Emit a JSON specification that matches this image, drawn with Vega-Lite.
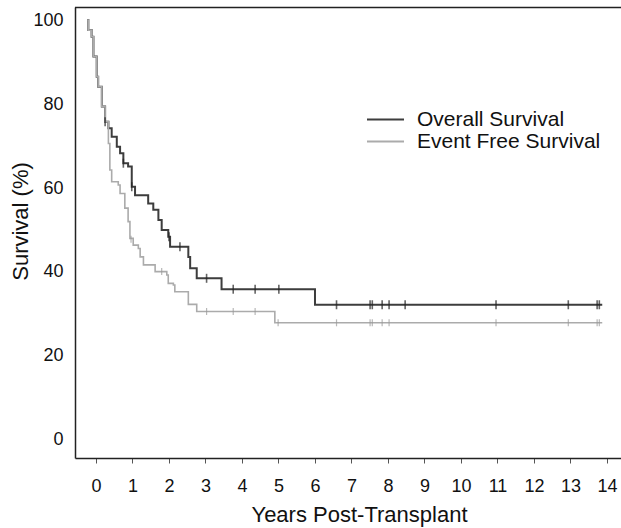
{
  "$schema": "https://vega.github.io/schema/vega-lite/v6.json",
  "autosize": {"type": "none"},
  "width": 546,
  "height": 451,
  "padding": {"left": 75, "top": 7, "right": 0, "bottom": 70},
  "background": "white",
  "config": {
    "view": {"stroke": null},
    "font": "Liberation Sans",
    "axis": {"labelFont": "Liberation Sans", "titleFont": "Liberation Sans", "labelColor": "#111", "titleColor": "#111", "domainColor": "#222", "domainWidth": 1.5, "grid": false, "titleFontWeight": "normal"},
    "legend": {"title": null, "orient": "none", "padding": 0, "symbolType": "stroke", "symbolSize": 1369, "symbolStrokeWidth": 2, "labelFontSize": 21, "labelFont": "Liberation Sans", "labelColor": "#111", "labelOffset": 12, "labelLimit": 400}
  },
  "datasets": {
    "os": [
      {"s": "Overall Survival", "t": -0.24, "v": 100},
      {"s": "Overall Survival", "t": -0.21, "v": 97.6},
      {"s": "Overall Survival", "t": -0.12, "v": 96.0},
      {"s": "Overall Survival", "t": -0.07, "v": 91.3},
      {"s": "Overall Survival", "t": 0.02, "v": 86.5},
      {"s": "Overall Survival", "t": 0.06, "v": 84.1},
      {"s": "Overall Survival", "t": 0.16, "v": 79.4},
      {"s": "Overall Survival", "t": 0.25, "v": 75.8},
      {"s": "Overall Survival", "t": 0.34, "v": 74.2},
      {"s": "Overall Survival", "t": 0.43, "v": 72.2},
      {"s": "Overall Survival", "t": 0.57, "v": 69.8},
      {"s": "Overall Survival", "t": 0.66, "v": 68.3},
      {"s": "Overall Survival", "t": 0.75, "v": 65.9},
      {"s": "Overall Survival", "t": 0.88, "v": 65.1},
      {"s": "Overall Survival", "t": 0.98, "v": 60.3},
      {"s": "Overall Survival", "t": 1.07, "v": 58.3},
      {"s": "Overall Survival", "t": 1.43, "v": 56.3},
      {"s": "Overall Survival", "t": 1.57, "v": 54.8},
      {"s": "Overall Survival", "t": 1.71, "v": 52.4},
      {"s": "Overall Survival", "t": 1.80, "v": 50.0},
      {"s": "Overall Survival", "t": 1.98, "v": 48.4},
      {"s": "Overall Survival", "t": 2.03, "v": 46.0},
      {"s": "Overall Survival", "t": 2.53, "v": 43.6},
      {"s": "Overall Survival", "t": 2.58, "v": 40.9},
      {"s": "Overall Survival", "t": 2.76, "v": 38.5},
      {"s": "Overall Survival", "t": 3.44, "v": 35.9},
      {"s": "Overall Survival", "t": 6.0, "v": 32.2},
      {"s": "Overall Survival", "t": 13.87, "v": 32.2}
    ],
    "efs": [
      {"s": "Event Free Survival", "t": -0.24, "v": 100},
      {"s": "Event Free Survival", "t": -0.21, "v": 97.6},
      {"s": "Event Free Survival", "t": -0.12, "v": 96.0},
      {"s": "Event Free Survival", "t": -0.07, "v": 91.3},
      {"s": "Event Free Survival", "t": 0.02, "v": 86.5},
      {"s": "Event Free Survival", "t": 0.06, "v": 84.1},
      {"s": "Event Free Survival", "t": 0.16, "v": 79.4},
      {"s": "Event Free Survival", "t": 0.25, "v": 75.8},
      {"s": "Event Free Survival", "t": 0.34, "v": 70.6},
      {"s": "Event Free Survival", "t": 0.38, "v": 64.3},
      {"s": "Event Free Survival", "t": 0.43, "v": 61.5},
      {"s": "Event Free Survival", "t": 0.61, "v": 60.7},
      {"s": "Event Free Survival", "t": 0.66, "v": 58.7},
      {"s": "Event Free Survival", "t": 0.79, "v": 55.2},
      {"s": "Event Free Survival", "t": 0.88, "v": 52.0},
      {"s": "Event Free Survival", "t": 0.93, "v": 48.0},
      {"s": "Event Free Survival", "t": 1.02, "v": 46.4},
      {"s": "Event Free Survival", "t": 1.16, "v": 45.6},
      {"s": "Event Free Survival", "t": 1.21, "v": 43.6},
      {"s": "Event Free Survival", "t": 1.30, "v": 41.7},
      {"s": "Event Free Survival", "t": 1.62, "v": 40.1},
      {"s": "Event Free Survival", "t": 1.94, "v": 39.3},
      {"s": "Event Free Survival", "t": 1.98, "v": 37.3},
      {"s": "Event Free Survival", "t": 2.12, "v": 36.9},
      {"s": "Event Free Survival", "t": 2.16, "v": 35.3},
      {"s": "Event Free Survival", "t": 2.53, "v": 32.3},
      {"s": "Event Free Survival", "t": 2.76, "v": 30.6},
      {"s": "Event Free Survival", "t": 4.90, "v": 27.9},
      {"s": "Event Free Survival", "t": 13.87, "v": 27.9}
    ],
    "osCensor": [
      {"t": 0.25, "v": 75.8},
      {"t": 0.75, "v": 65.9},
      {"t": 0.98, "v": 60.3},
      {"t": 2.0, "v": 48.4},
      {"t": 2.30, "v": 46.0},
      {"t": 3.03, "v": 38.5},
      {"t": 3.76, "v": 35.9},
      {"t": 4.36, "v": 35.9},
      {"t": 5.01, "v": 35.9},
      {"t": 6.59, "v": 32.2},
      {"t": 7.51, "v": 32.2},
      {"t": 7.57, "v": 32.2},
      {"t": 7.84, "v": 32.2},
      {"t": 8.03, "v": 32.2},
      {"t": 8.47, "v": 32.2},
      {"t": 10.96, "v": 32.2},
      {"t": 12.94, "v": 32.2},
      {"t": 13.73, "v": 32.2},
      {"t": 13.79, "v": 32.2}
    ],
    "efsCensor": [
      {"t": 0.96, "v": 47.8},
      {"t": 1.80, "v": 40.1},
      {"t": 3.03, "v": 30.6},
      {"t": 3.76, "v": 30.6},
      {"t": 4.36, "v": 30.6},
      {"t": 4.99, "v": 27.9},
      {"t": 6.59, "v": 27.9},
      {"t": 7.51, "v": 27.9},
      {"t": 7.57, "v": 27.9},
      {"t": 7.84, "v": 27.9},
      {"t": 8.03, "v": 27.9},
      {"t": 10.96, "v": 27.9},
      {"t": 12.94, "v": 27.9},
      {"t": 13.73, "v": 27.9},
      {"t": 13.79, "v": 27.9}
    ],
    "frame": [{"t0": -0.575, "t1": 14.384, "v": 103}]
  },
  "resolve": {"scale": {"color": "independent"}},
  "encoding": {
    "x": {"field": "t", "type": "quantitative", "scale": {"domain": [-0.575, 14.384], "nice": false, "zero": false},
      "axis": {"values": [0,1,2,3,4,5,6,7,8,9,10,11,12,13,14], "title": "Years Post-Transplant", "labelFontSize": 18, "titleFontSize": 22, "tickSize": 5, "tickColor": "#555", "labelPadding": 14, "titleX": 284, "titleY": 56, "titleBaseline": "middle", "labelFlush": false, "labelOverlap": false}},
    "y": {"field": "v", "type": "quantitative", "scale": {"domain": [-4.29, 103.1], "nice": false, "zero": false},
      "axis": {"values": [0,20,40,60,80,100], "title": "Survival (%)", "labelFontSize": 18, "titleFontSize": 22, "ticks": false, "tickSize": 0, "labelPadding": 12, "titleX": -55, "titleY": 214, "titleBaseline": "middle", "labelFlush": false, "labelOverlap": false}}
  },
  "layer": [
    {
      "data": {"name": "frame"},
      "mark": {"type": "rule", "color": "#222", "strokeWidth": 1.5},
      "encoding": {
        "x": {"field": "t0", "type": "quantitative"},
        "x2": {"field": "t1"}
      }
    },
    {
      "data": {"name": "os"},
      "mark": {"type": "line", "interpolate": "step-after", "strokeWidth": 2},
      "encoding": {
        "color": {"field": "s", "type": "nominal",
          "scale": {"domain": ["Overall Survival"], "range": ["#3d3d3d"]},
          "legend": {"legendX": 291, "legendY": 93}}
      }
    },
    {
      "data": {"name": "efs"},
      "mark": {"type": "line", "interpolate": "step-after", "strokeWidth": 1.6},
      "encoding": {
        "color": {"field": "s", "type": "nominal",
          "scale": {"domain": ["Event Free Survival"], "range": ["#ababab"]},
          "legend": {"legendX": 291, "legendY": 115}}
      }
    },
    {
      "data": {"name": "osCensor"},
      "mark": {"type": "tick", "orient": "vertical", "size": 9, "thickness": 1.6, "color": "#222"}
    },
    {
      "data": {"name": "efsCensor"},
      "mark": {"type": "tick", "orient": "vertical", "size": 7, "thickness": 1.2, "color": "#999"}
    }
  ]
}
